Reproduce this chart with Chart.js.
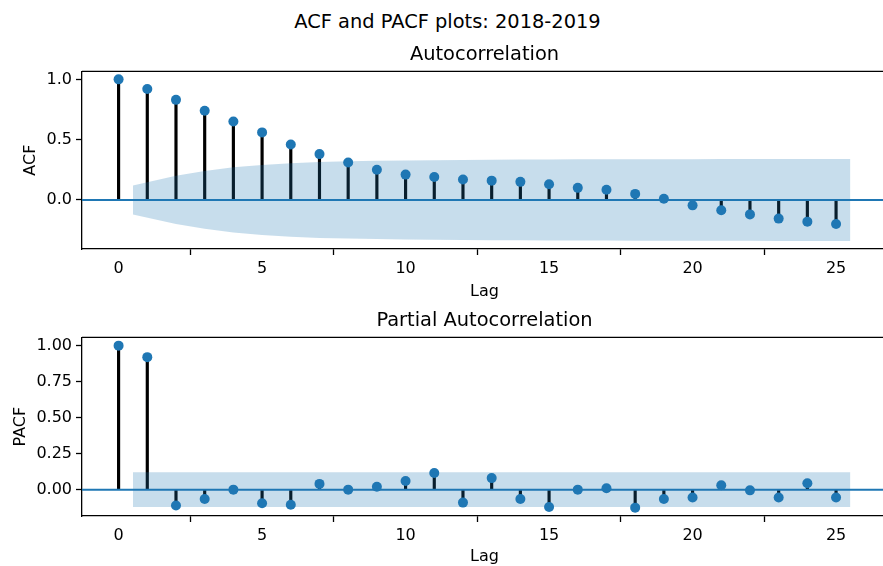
<!DOCTYPE html>
<html>
<head>
<meta charset="utf-8">
<script src="https://cdn.jsdelivr.net/npm/chart.js@4.4.0/dist/chart.umd.min.js"></script>
<style>
  html, body { margin: 0; padding: 0; background: #fff; overflow: hidden; }
  #page { position: relative; width: 883px; height: 566px; overflow: hidden; }
  #suptitle {
    position: absolute; left: 0; top: 10px; width: 895px;
    text-align: center; font: 19.4px "DejaVu Sans"; line-height: 24px; color: #000;
  }
  canvas { position: absolute; left: 0; }
  #acfChart { top: 0; }
  #pacfChart { top: 266px; }
</style>
</head>
<body>
<div id="page">
  <div id="suptitle">ACF and PACF plots: 2018-2019</div>
  <canvas id="acfChart" width="892" height="310"></canvas>
  <canvas id="pacfChart" width="892" height="311"></canvas>
</div>
<script>
// lags 0..25
const lags = [0, 1, 2, 3, 4, 5, 6, 7, 8, 9, 10, 11, 12, 13, 14, 15, 16, 17, 18, 19, 20, 21, 22, 23, 24, 25];

const acfValues = [1.00, 0.92, 0.83, 0.74, 0.65, 0.56, 0.46, 0.38, 0.31, 0.25, 0.21, 0.19, 0.17,
  0.16, 0.15, 0.13, 0.10, 0.085, 0.05, 0.01, -0.045, -0.085, -0.12, -0.155, -0.18, -0.20];

const pacfValues = [1.00, 0.92, -0.11, -0.065, 0.0, -0.095, -0.105, 0.04, 0.0, 0.02, 0.06, 0.115, -0.09,
  0.08, -0.065, -0.12, 0.0, 0.01, -0.125, -0.065, -0.055, 0.03, -0.005, -0.055, 0.045, -0.055];

// confidence band edges (half-width), first/last points pushed out by half a lag
const bandLags = [0.5, 2, 3, 4, 5, 6, 7, 8, 9, 10, 11, 12, 13, 14, 15, 16, 17, 18, 19, 20, 21, 22, 23, 24, 25.5];
const acfBand = [0.12, 0.20, 0.24, 0.27, 0.29, 0.305, 0.315, 0.32, 0.325, 0.328, 0.33, 0.332, 0.334,
  0.335, 0.336, 0.337, 0.337, 0.338, 0.338, 0.338, 0.339, 0.339, 0.34, 0.34, 0.34];
const pacfBand = [0.12, 0.12, 0.12, 0.12, 0.12, 0.12, 0.12, 0.12, 0.12, 0.12, 0.12, 0.12, 0.12,
  0.12, 0.12, 0.12, 0.12, 0.12, 0.12, 0.12, 0.12, 0.12, 0.12, 0.12, 0.12];

const lagTicks = [0, 5, 10, 15, 20, 25];
const acfTicks = [0.0, 0.5, 1.0];
const pacfTicks = [0.0, 0.25, 0.5, 0.75, 1.0];

const X_MIN = -1.275, X_MAX = 26.775;

const BLUE = "#1f77b4";
const FONT = "DejaVu Sans";

// matplotlib-style box: top and right spines
const spines = {
  id: "spines",
  afterDraw(chart) {
    const { ctx, chartArea: a } = chart;
    ctx.save();
    ctx.strokeStyle = "#000";
    ctx.lineWidth = 1.3;
    ctx.beginPath();
    ctx.moveTo(a.left, a.top);
    ctx.lineTo(a.right, a.top);
    ctx.lineTo(a.right, a.bottom);
    ctx.stroke();
    ctx.restore();
  }
};

function makeChart(id, opts) {
  const pts = (xs, ys) => xs.map((x, i) => ({ x: x, y: ys[i] }));

  return new Chart(document.getElementById(id), {
    type: "line",
    data: {
      datasets: [
        {
          // band: upper edge filled down to the lower edge
          data: pts(bandLags, opts.band),
          borderWidth: 0,
          pointRadius: 0,
          backgroundColor: "rgba(31, 119, 180, 0.25)",
          fill: "+1",
          tension: 0
        },
        {
          data: pts(bandLags, opts.band.map(v => -v)),
          borderWidth: 0,
          pointRadius: 0,
          fill: false,
          tension: 0
        },
        {
          // markers
          data: pts(lags, opts.values),
          showLine: false,
          pointRadius: 5,
          pointBorderWidth: 0,
          pointBackgroundColor: BLUE,
          pointBorderColor: BLUE
        },
        {
          // zero line across the whole axis
          data: [{ x: X_MIN, y: 0 }, { x: X_MAX, y: 0 }],
          borderColor: BLUE,
          borderWidth: 2,
          pointRadius: 0
        },
        {
          // stems
          type: "bar",
          data: pts(lags, opts.values),
          backgroundColor: "#000",
          barThickness: 2.5,
          borderWidth: 0
        }
      ]
    },
    options: {
      responsive: false,
      animation: false,
      events: [],
      layout: { padding: { top: opts.padTop, right: 1, bottom: 0, left: 0 } },
      plugins: {
        legend: { display: false },
        tooltip: { enabled: false },
        title: {
          display: true,
          text: opts.title,
          fullSize: false,
          color: "#000",
          font: { family: FONT, size: 19.4, weight: "normal" },
          padding: { top: 0, bottom: opts.titleGap }
        }
      },
      scales: {
        x: {
          type: "linear",
          min: X_MIN,
          max: X_MAX,
          offset: false,
          afterFit: s => { s.height = 61; },
          afterBuildTicks: s => { s.ticks = lagTicks.map(v => ({ value: v })); },
          grid: { drawOnChartArea: false, drawTicks: true, tickLength: 6, tickColor: "#000", tickWidth: 1.3 },
          border: { display: true, color: "#000", width: 1.3 },
          ticks: {
            autoSkip: false,
            maxRotation: 0,
            padding: 4,
            color: "#000",
            font: { family: FONT, size: 16 },
            callback: v => String(v)
          },
          title: {
            display: true,
            text: "Lag",
            color: "#000",
            font: { family: FONT, size: 16 },
            padding: { top: 0, bottom: opts.lagPad }
          }
        },
        y: {
          type: "linear",
          min: opts.yMin,
          max: opts.yMax,
          afterFit: s => { s.width = 82; },
          afterBuildTicks: s => { s.ticks = opts.ticks.map(v => ({ value: v })); },
          grid: { drawOnChartArea: false, drawTicks: true, tickLength: 6, tickColor: "#000", tickWidth: 1.3 },
          border: { display: true, color: "#000", width: 1.3 },
          ticks: {
            padding: 4,
            color: "#000",
            font: { family: FONT, size: 16 },
            callback: v => v.toFixed(opts.digits)
          },
          title: {
            display: true,
            text: opts.yLabel,
            color: "#000",
            font: { family: FONT, size: 16 },
            padding: { top: opts.yTitlePad, bottom: 0 }
          }
        }
      }
    },
    plugins: [spines]
  });
}

makeChart("acfChart", {
  title: "Autocorrelation",
  yLabel: "ACF",
  values: acfValues,
  band: acfBand,
  ticks: acfTicks,
  digits: 1,
  yMin: -0.407,
  yMax: 1.067,
  yTitlePad: 21.4,
  padTop: 43,
  titleGap: 5,
  lagPad: 9
});

makeChart("pacfChart", {
  title: "Partial Autocorrelation",
  yLabel: "PACF",
  values: pacfValues,
  band: pacfBand,
  ticks: pacfTicks,
  digits: 2,
  yMin: -0.183,
  yMax: 1.058,
  yTitlePad: 11.2,
  padTop: 43,
  titleGap: 5,
  lagPad: 11
});
</script>
</body>
</html>
